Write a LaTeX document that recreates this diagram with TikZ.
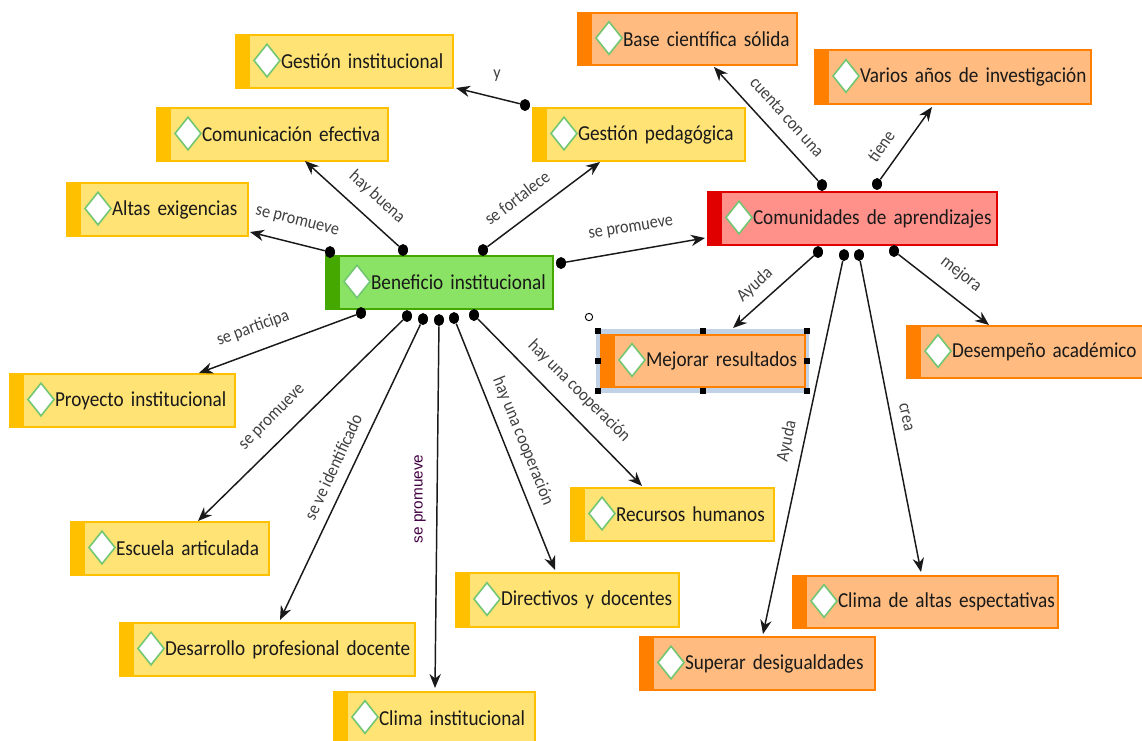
\documentclass[tikz,border=0pt]{standalone}
\usepackage{fontspec}
\setmainfont{Carlito}[FakeStretch=0.9]
\newfontfamily\widefont{Liberation Sans}
\usetikzlibrary{positioning}
\usetikzlibrary{calc,arrows.meta,shapes.geometric}
\definecolor{yellowfill}{HTML}{FFE375}
\definecolor{yellowbar}{HTML}{FFC000}
\definecolor{orangefill}{HTML}{FFBB80}
\definecolor{orangebar}{HTML}{FF8000}
\definecolor{redfill}{HTML}{FF918A}
\definecolor{redbar}{HTML}{E00000}
\definecolor{greenfill}{HTML}{8AE364}
\definecolor{greenbar}{HTML}{44A800}
\definecolor{selectfill}{HTML}{C2D2E6}
\tikzset{conceptbox/.style={draw=#1bar,line width=1.2pt,fill=#1fill,anchor=north west,inner sep=0pt,outer sep=0pt,align=left,
      font=\fontsize{16}{18}\selectfont,text=black!90,
      path picture={\fill[#1bar] (path picture bounding box.north west) rectangle ($(path picture bounding box.south west)+(14,0)$);}}}
\tikzset{conceptmark/.style={diamond,draw=green!60!black!55,fill=white,line width=1.2pt,minimum width=20pt,minimum height=25pt,inner sep=0pt}}
\tikzset{linkdot/.style={ellipse,fill=black,minimum width=7.5pt,minimum height=9pt,inner sep=0pt}}
\tikzset{linkarrow/.style={-{Stealth[length=10.5pt,width=8.5pt]},line width=1.1pt,black!90}}
\tikzset{linklabel/.style={font=\fontsize{13.5}{15}\selectfont,text=black!75,inner sep=0pt}}
\newcommand\conceptindent{33.75pt}
\newcommand*\conceptnode[6][yellow]{
\node[conceptbox=#1,minimum width=#4*0.75pt,minimum height=#5*0.75pt,text width=#4*0.75pt] (#2) at (#3) {\hspace*{\conceptindent}\mbox{#6}};
\node[conceptmark] (#2-mark) at ($(#2.west)+(31,-1)$) {};
}
\begin{document}
\begin{tikzpicture}[x=0.75pt,y=-0.75pt]
	\useasboundingbox (0,0) rectangle (1142,740);

	\node[fill=selectfill,draw=selectfill,line width=3.5pt,anchor=north west,minimum width=156.75pt,minimum height=45pt,inner sep=0pt,outer sep=0pt] (sel) at (598,331) {};

	\conceptnode{gi}{236,35}{217}{53}{Gestión institucional}
	\conceptnode{cm}{157,108}{231}{53}{Comunicación efectiva}
	\conceptnode{ae}{67,183}{181}{53}{Altas exigencias}
	\conceptnode{gp}{533,108}{212}{53}{Gestión pedagógica}
	\conceptnode[orange]{bc}{578,13}{219}{52}{Base científica sólida}
	\conceptnode[orange]{va}{815,50}{276}{54}{Varios años de investigación}
	\conceptnode[red]{cd}{708,192}{289}{53}{Comunidades de aprendizajes}
	\conceptnode[green]{bi}{326,256}{227}{53}{Beneficio institucional}
	\conceptnode[orange]{mr}{601,335}{204}{52}{Mejorar resultados}
	\conceptnode[orange]{da}{907,326}{240}{52}{Desempeño académico}
	\conceptnode{py}{10,374}{225}{53}{Proyecto institucional}
	\conceptnode{ea}{71,522}{198}{53}{Escuela articulada}
	\conceptnode{rh}{571,488}{203}{53}{Recursos humanos}
	\conceptnode{dd}{456,573}{223}{54}{Directivos y docentes}
	\conceptnode{dp}{120,623}{295}{53}{Desarrollo profesional docente}
	\conceptnode{ci}{334,692}{201}{52}{Clima institucional}
	\conceptnode[orange]{ca}{793,576}{265}{52}{Clima de altas espectativas}
	\conceptnode[orange]{su}{640,637}{235}{53}{Superar desigualdades}

	\foreach \a in {north west,north,north east,west,east,south west,south,south east}
		\fill (sel.\a) +(-3,-3) rectangle +(3,3);
	\node[circle,draw,line width=0.7pt,minimum size=5.5pt,inner sep=0pt] (rot) at (589,317) {};

	\node[linkdot] (d-gi) at (525,105) {};
	\node[linkdot] (d-cm) at (403,250) {};
	\node[linkdot] (d-ae) at (330,252) {};
	\node[linkdot] (d-gp) at (483,250) {};
	\node[linkdot] (d-cd) at (561,263) {};
	\node[linkdot] (d-bc) at (822,185) {};
	\node[linkdot] (d-va) at (877,184) {};
	\node[linkdot] (d-mr) at (818,252) {};
	\node[linkdot] (d-da) at (894,251) {};
	\node[linkdot] (d-su) at (844,255) {};
	\node[linkdot] (d-ca) at (859,255) {};
	\node[linkdot] (d-py) at (361,313) {};
	\node[linkdot] (d-ea) at (407,316) {};
	\node[linkdot] (d-dp) at (423,319) {};
	\node[linkdot] (d-ci) at (439,320) {};
	\node[linkdot] (d-dd) at (454,318) {};
	\node[linkdot] (d-rh) at (474,315) {};

	\draw[linkarrow] (d-gi) -- ($(gi.south east)+(3,0)$);
	\draw[linkarrow] (d-cm) -- ($(cm.south west)+(148,0)$);
	\draw[linkarrow] (d-ae) -- ($(ae.south east)+(2,-4)$);
	\draw[linkarrow] (d-gp) -- ($(gp.south west)+(67,1)$);
	\draw[linkarrow] (d-cd) -- ($(cd.south west)+(-3,-7)$);
	\draw[linkarrow] (d-bc) -- ($(bc.south west)+(136,2)$);
	\draw[linkarrow] (d-va) -- ($(va.south west)+(117,3)$);
	\draw[linkarrow] (d-mr) -- ($(mr.north west)+(132,-7)$);
	\draw[linkarrow] (d-da) -- ($(da.north west)+(82,-1)$);
	\draw[linkarrow] (d-su) -- ($(su.north west)+(123,-3)$);
	\draw[linkarrow] (d-ca) -- ($(ca.north west)+(128,-4)$);
	\draw[linkarrow] (d-py) -- ($(py.north west)+(189,-1)$);
	\draw[linkarrow] (d-ea) -- ($(ea.north west)+(127,-1)$);
	\draw[linkarrow] (d-dp) -- ($(dp.north west)+(160,-3)$);
	\draw[linkarrow] (d-ci) -- ($(ci.north west)+(101,-4)$);
	\draw[linkarrow] (d-dd) -- ($(dd.north west)+(99,-3)$);
	\draw[linkarrow] (d-rh) -- ($(rh.north west)+(71,-2)$);

	\node[linklabel] (l-gi) at (497,76) {y};
	\node[linklabel,rotate=-42] (l-cm) at (377,197) {hay buena};
	\node[linklabel,rotate=-14] (l-ae) at (297,222) {se promueve};
	\node[linklabel,rotate=37] (l-gp) at (517,198) {se fortalece};
	\node[linklabel,rotate=9] (l-cd) at (631,229) {se promueve};
	\node[linklabel,rotate=-48] (l-bc) at (787,117) {cuenta con una};
	\node[linklabel,rotate=55] (l-va) at (881,146) {tiene};
	\node[linklabel,rotate=42] (l-mr) at (755,285) {Ayuda};
	\node[linklabel,rotate=-38] (l-da) at (961,274) {mejora};
	\node[linklabel,rotate=78] (l-su) at (787,441) {Ayuda};
	\node[linklabel,rotate=-78] (l-ca) at (906,417) {crea};
	\node[linklabel,rotate=20] (l-py) at (253,328) {se participa};
	\node[linklabel,rotate=45] (l-ea) at (273,418) {se promueve};
	\node[linklabel,rotate=65] (l-dp) at (333,467) {se ve identificado};
	\node[linklabel,rotate=90,font=\widefont\fontsize{11.5}{13}\selectfont,text=violet!50!black] (l-ci) at (420,499) {se promueve};
	\node[linklabel,rotate=-68] (l-dd) at (523,441) {hay una cooperación};
	\node[linklabel,rotate=-45] (l-rh) at (579,391) {hay una cooperación};

\end{tikzpicture}
\end{document}
